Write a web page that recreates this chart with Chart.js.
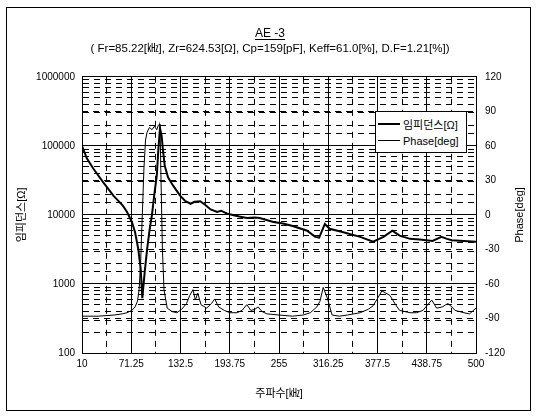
<!DOCTYPE html>
<html>
<head>
<meta charset="utf-8">
<script src="https://cdn.jsdelivr.net/npm/chart.js@4.4.1/dist/chart.umd.min.js"></script>
<style>
  html, body { margin: 0; padding: 0; background: #fff; }
  #wrap { position: relative; width: 536px; height: 416px; }
  #legend {
    position: absolute; left: 375px; top: 111px; width: 86px;
    padding: 3px 2px; border: 1.5px solid #000; background: #fff;
    font: 11px 'Liberation Sans', Arial, 'Noto Sans CJK KR', sans-serif; color: #000;
  }
  .row { display: flex; align-items: center; height: 17px; }
  .swatch { width: 22px; margin-right: 3px; border-top: 1px solid #000; }
</style>
</head>
<body>
<div id="wrap">
  <canvas id="chart" width="536" height="416"></canvas>
  <div id="legend"></div>
</div>
<script>
/* ---------------------------------------------------------
   AE-3 impedance / phase sweep
   --------------------------------------------------------- */
const FONT = "'Liberation Sans', Arial, 'Noto Sans CJK KR', sans-serif";

const titleText = 'AE -3';
const subtitleText = '( Fr=85.22[㎑], Zr=624.53[Ω], Cp=159[pF], Keff=61.0[%], D.F=1.21[%])';

// axis ticks
const xTicks = [10, 71.25, 132.5, 193.75, 255, 316.25, 377.5, 438.75, 500];
const zTicks = [100, 1000, 10000, 100000, 1000000];
const phaseTicks = [-120, -90, -60, -30, 0, 30, 60, 90, 120];

const seriesNames = ['임피던스[Ω]', 'Phase[deg]'];
const lineWidths = [2, 1];

// impedance [ohm] vs frequency [kHz]
const zFreq = [10, 16, 24, 36, 49, 61, 66, 72, 76, 80, 83, 85, 88, 91, 94, 97, 100, 103, 105, 107,
  109, 111, 113, 117, 122, 127, 132, 138, 145, 150, 157, 163, 170, 178, 183, 190, 200, 207, 215,
  225, 231, 248, 260, 272, 290, 300, 305, 312, 318, 335, 356, 372, 385, 396, 405, 418, 430, 446,
  457, 464, 470, 485, 500];
const zVals = [100000, 66000, 47000, 30000, 19000, 13500, 11000, 7900, 5600, 3200, 1650, 624, 1500,
  3200, 6000, 10000, 20000, 37000, 90000, 180000,
  140000, 80000, 51000, 35000, 28000, 23000, 19000, 16000, 14500, 15500, 15800, 14000, 12000, 11000,
  11500, 10500, 9800, 9400, 9000,
  9200, 9000, 7900, 7500, 6900, 5900, 4800, 4700, 7400, 6300, 5600, 4800, 4100, 4800, 5900, 5000,
  4500, 4400, 4200,
  4800, 4500, 4300, 4200, 4100];

// phase [deg] vs frequency [kHz]
const pFreq = [10, 30, 50, 60, 66, 72, 76, 79, 81, 83, 85, 87, 89, 91, 94, 97, 100, 103, 105, 107,
  108, 110, 112, 116, 122, 128, 134, 140, 144, 148, 151, 154, 158, 165, 171, 175, 180, 187, 194,
  203, 209, 215, 220, 225, 229, 234, 240, 255, 272, 285, 294, 302, 306, 310, 315, 321, 330, 340,
  356, 366, 372, 378, 383, 393, 400, 405, 418, 426, 434, 440, 445, 451, 458, 465, 470, 474, 485,
  492, 500];
const pVals = [-88, -88, -87, -86, -85, -83, -80, -75, -65, -40, 0, 40, 65, 72, 76, 74, 77, 74, 78, 79,
  40, -30, -65, -81, -84, -85, -82, -77, -70, -65, -74, -68, -78, -81, -77, -73, -80, -83, -85,
  -85, -83, -78, -83, -82, -80, -84, -86, -87, -88, -87, -85, -80, -75, -63, -72, -87, -88, -87,
  -85, -82, -79, -72, -66, -70, -78, -83, -85, -85, -83, -78, -74, -81, -80, -77, -80, -83, -85,
  -86, -81];

const near = (list, v) => list.some((t) => Math.abs(t - v) <= Math.abs(t) * 1e-6 + 1e-9);
const dashFor = (list) => (ctx) => (ctx.tick && !near(list, ctx.tick.value) ? [6, 5] : []);

// frame, title underline and right axis title
const decor = {
  id: 'decor',
  beforeDraw(chart) {
    const c = chart.ctx;
    c.save();
    c.fillStyle = '#fff';
    c.fillRect(0, 0, chart.width, chart.height);
    c.strokeStyle = '#000';
    c.lineWidth = 1;
    c.strokeRect(6.5, 7.5, 524, 403);
    c.restore();
  },
  afterDraw(chart) {
    const c = chart.ctx;
    const t = chart.titleBlock;
    const area = chart.chartArea;
    c.save();
    c.font = '12px ' + FONT;
    const w = c.measureText(titleText).width;
    const cx = (t.left + t.right) / 2;
    const y = Math.round(t.top + 26 + 7.2 + 6) + 0.5;
    c.strokeStyle = '#000';
    c.lineWidth = 1;
    c.beginPath();
    c.moveTo(cx - w / 2, y);
    c.lineTo(cx + w / 2, y);
    c.stroke();

    c.translate(520, (area.top + area.bottom) / 2);
    c.rotate(-Math.PI / 2);
    c.textAlign = 'center';
    c.textBaseline = 'middle';
    c.font = '11px ' + FONT;
    c.fillStyle = '#000';
    c.fillText('Phase[deg]', 0, 0);
    c.restore();
  },
};

new Chart(document.getElementById('chart'), {
  type: 'line',
  data: {
    datasets: [
      {
        label: seriesNames[0],
        data: zFreq.map((f, i) => ({ x: f, y: zVals[i] })),
        yAxisID: 'y',
        borderColor: '#000',
        borderWidth: lineWidths[0],
        pointRadius: 0,
        tension: 0,
      },
      {
        label: seriesNames[1],
        data: pFreq.map((f, i) => ({ x: f, y: pVals[i] })),
        yAxisID: 'y1',
        borderColor: '#000',
        borderWidth: lineWidths[1],
        pointRadius: 0,
        tension: 0,
      },
    ],
  },
  options: {
    responsive: false,
    animation: false,
    devicePixelRatio: 1,
    layout: { padding: { left: 10, right: 6, top: 0, bottom: 13 } },
    plugins: {
      legend: { display: false },
      tooltip: { enabled: false },
      title: {
        display: true,
        text: titleText,
        color: '#000',
        font: { family: FONT, size: 12, weight: 'normal' },
        padding: { top: 26, bottom: 0 },
      },
      subtitle: {
        display: true,
        text: subtitleText,
        color: '#000',
        font: { family: FONT, size: 11.5 },
        padding: { top: 2, bottom: 20.6 },
      },
    },
    scales: {
      x: {
        type: 'linear',
        min: 10,
        max: 500,
        afterBuildTicks: (s) => {
          const vals = [];
          xTicks.forEach((v, i) => {
            vals.push(v);
            if (i < xTicks.length - 1) vals.push((v + xTicks[i + 1]) / 2);
          });
          s.ticks = vals.map((v) => ({ value: v }));
        },
        afterFit: (s) => { s.height = 50; },
        ticks: {
          autoSkip: false,
          maxRotation: 0,
          padding: 5,
          color: '#000',
          font: { family: FONT, size: 10 },
          callback: (v) => (near(xTicks, v) ? String(v) : ''),
        },
        grid: { color: '#000', lineWidth: 1, drawTicks: false },
        border: { color: '#000', dash: dashFor(xTicks) },
        title: {
          display: true,
          text: '주파수[㎑]',
          color: '#000',
          font: { family: FONT, size: 11 },
          padding: { top: 4, bottom: 2 },
        },
      },
      y: {
        type: 'logarithmic',
        position: 'left',
        min: 100,
        max: 1000000,
        afterFit: (s) => { s.width = 72; },
        ticks: {
          autoSkip: false,
          padding: 7,
          color: '#000',
          font: { family: FONT, size: 10 },
          callback: (v) => (near(zTicks, v) ? String(v) : ''),
        },
        grid: { color: '#000', lineWidth: 1, drawTicks: false },
        border: { color: '#000', dash: dashFor(zTicks) },
        title: {
          display: true,
          text: seriesNames[0],
          color: '#000',
          font: { family: FONT, size: 11 },
          padding: { top: 5, bottom: 4 },
        },
      },
      y1: {
        type: 'linear',
        position: 'right',
        min: -120,
        max: 120,
        afterBuildTicks: (s) => { s.ticks = phaseTicks.map((v) => ({ value: v })); },
        afterFit: (s) => { s.width = 54; },
        ticks: {
          autoSkip: false,
          padding: 9,
          color: '#000',
          font: { family: FONT, size: 10 },
        },
        grid: { color: '#000', lineWidth: 1, drawTicks: false },
        border: { color: '#000', dash: [6, 5] },
      },
    },
  },
  plugins: [decor],
});

// legend box inside the plot
const legend = document.getElementById('legend');
seriesNames.forEach((name, i) => {
  const row = document.createElement('div');
  row.className = 'row';
  const sw = document.createElement('span');
  sw.className = 'swatch';
  sw.style.borderTopWidth = lineWidths[i] + 'px';
  const label = document.createElement('span');
  label.textContent = name;
  row.appendChild(sw);
  row.appendChild(label);
  legend.appendChild(row);
});
</script>
</body>
</html>
